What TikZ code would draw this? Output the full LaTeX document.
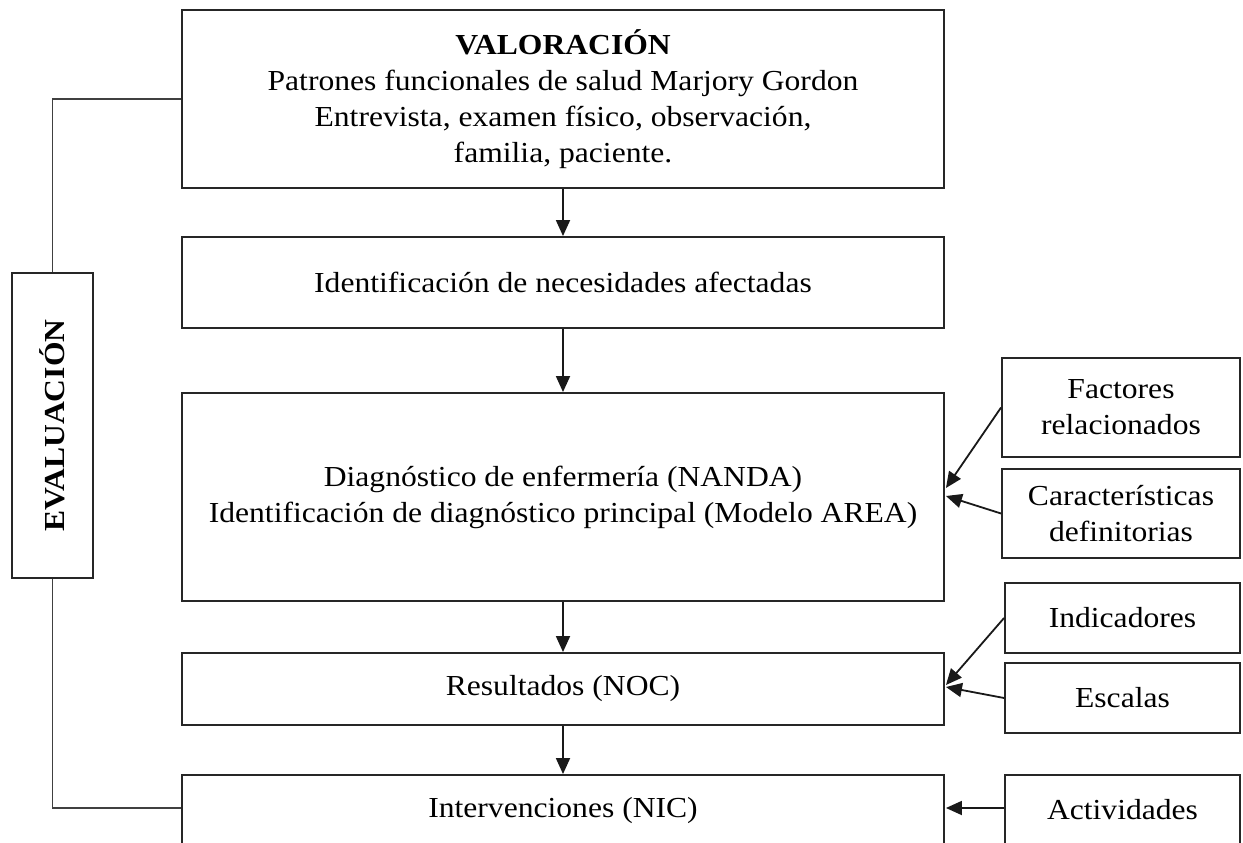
\documentclass[tikz,border=0pt]{standalone}
\usepackage{fontspec}
\setmainfont{Liberation Serif}[FakeStretch=1.09]
\usetikzlibrary{arrows.meta}
\begin{document}
\begin{tikzpicture}[x=1pt,y=-1pt,
  box/.style={draw=black!85, line width=1.9pt, rectangle, inner sep=0pt, align=center,
    font=\fontsize{29}{36}\selectfont},
  arr/.style={draw=black!90, line width=1.8pt, -{Triangle[length=16pt,width=14pt]}},
  link/.style={draw=black!75, line width=1.8pt}]
\clip (0,0) rectangle (1243,843);
\useasboundingbox (0,0) rectangle (1243,843);
\fill[white] (0,0) rectangle (1243,843);
% main column
\node[box, minimum width=762pt, minimum height=178pt] (val) at (563,99)
  {\textbf{VALORACIÓN}\\Patrones funcionales de salud Marjory Gordon\\Entrevista, examen físico, observación,\\familia, paciente.};
\node[box, minimum width=762pt, minimum height=91pt] (ide) at (563,282.5)
  {Identificación de necesidades afectadas};
\node[box, minimum width=762pt, minimum height=208pt] (dia) at (563,497)
  {Diagnóstico de enfermería (NANDA)\\Identificación de diagnóstico principal (Modelo AREA)};
\node[box, minimum width=762pt, minimum height=72pt] (res) at (563,689)
  {Resultados (NOC)};
\node[box, minimum width=762pt, minimum height=72pt] (int) at (563,811)
  {\raisebox{2pt}{Intervenciones (NIC)}};
% evaluation
\node[box, minimum width=81pt, minimum height=305pt] (eva) at (52.5,425.5)
  {\rotatebox{90}{\textbf{EVALUACIÓN}}};
% side boxes
\node[box, minimum width=238pt, minimum height=99pt] (fac) at (1121,407.5)
  {Factores\\relacionados};
\node[box, minimum width=238pt, minimum height=89pt] (car) at (1121,513.5)
  {Características\\definitorias};
\node[box, minimum width=235pt, minimum height=70pt] (ind) at (1122.5,618)
  {Indicadores};
\node[box, minimum width=235pt, minimum height=70pt] (esc) at (1122.5,698)
  {Escalas};
\node[box, minimum width=235pt, minimum height=72pt] (act) at (1122.5,811)
  {\raisebox{3pt}{Actividades}};
% vertical arrows
\draw[arr] (val.south) -- (ide.north);
\draw[arr] (ide.south) -- (dia.north);
\draw[arr] (dia.south) -- (res.north);
\draw[arr] (res.south) -- (int.north);
% side arrows
\draw[arr] (fac.west) -- ([xshift=1pt,yshift=9pt]dia.east);
\draw[arr] (car.west) -- ([xshift=1pt,yshift=1pt]dia.east);
\draw[arr] (ind.west) -- ([xshift=1pt,yshift=4pt]res.east);
\draw[arr] (esc.west) -- ([xshift=1pt,yshift=2pt]res.east);
\draw[arr] ([yshift=3pt]act.west) -- ([xshift=1pt,yshift=3pt]int.east);
% evaluation links
\draw[link] (val.west) -| (eva.north);
\draw[link] (eva.south) |- ([yshift=3pt]int.west);
\end{tikzpicture}
\end{document}
